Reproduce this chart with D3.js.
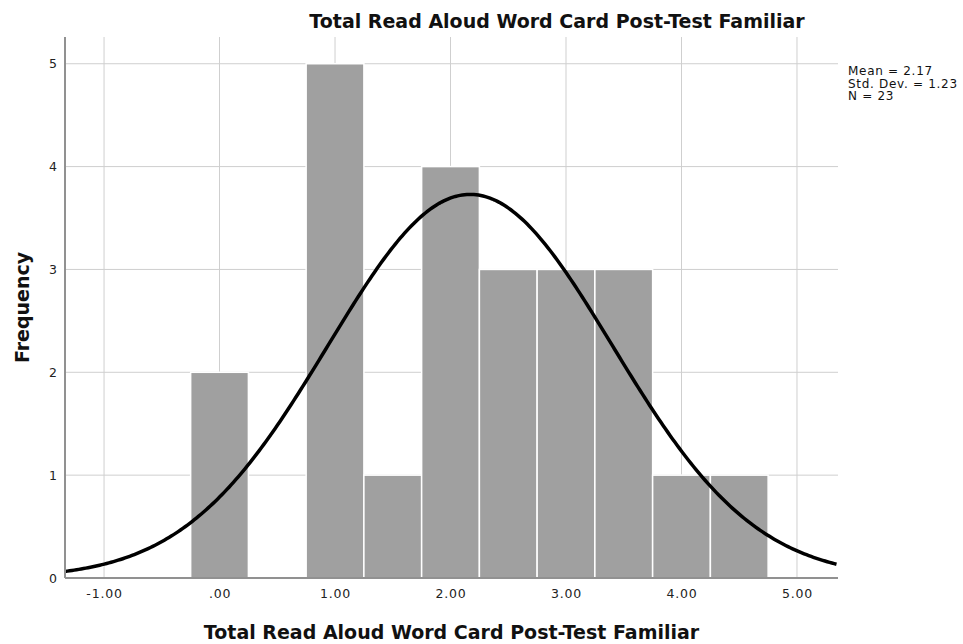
<!DOCTYPE html>
<html>
<head>
<meta charset="utf-8">
<script src="https://cdn.jsdelivr.net/npm/d3@7"></script>
<style>
  body { margin: 0; background: #fff; }
  svg { display: block; font-family: "DejaVu Sans", sans-serif; }
</style>
</head>
<body>
<div id="chart"></div>
<script>
// histogram bins (lower edge) and counts
const binStarts = [-0.25, 0.75, 1.25, 1.75, 2.25, 2.75, 3.25, 3.75, 4.25];
const binWidth = 0.5;
const counts = [2, 5, 1, 4, 3, 3, 3, 1, 1];
const xTicks = [-1, 0, 1, 2, 3, 4, 5];
const xTickLabels = ["-1.00", ".00", "1.00", "2.00", "3.00", "4.00", "5.00"];
const yTicks = [0, 1, 2, 3, 4, 5];
const stats = { mean: 2.17, sd: 1.23, n: 23 };
const titleText = "Total Read Aloud Word Card Post-Test Familiar";

const width = 963, height = 644;
const margin = { left: 65, right: 125, top: 37, bottom: 66 };

const svg = d3.select("#chart").append("svg")
    .attr("width", width)
    .attr("height", height);

const x = d3.scaleLinear()
    .domain([-1.338, 5.355])
    .range([margin.left, width - margin.right]);
const y = d3.scaleLinear()
    .domain([0, 5.26])
    .range([height - margin.bottom, margin.top]);

// gridlines
svg.append("g").selectAll("line.vgrid")
    .data(xTicks).enter().append("line")
    .attr("x1", d => x(d)).attr("x2", d => x(d))
    .attr("y1", y.range()[1]).attr("y2", y.range()[0])
    .attr("stroke", "#cfcfcf").attr("stroke-width", 1);
svg.append("g").selectAll("line.hgrid")
    .data(yTicks.slice(1)).enter().append("line")
    .attr("x1", x.range()[0]).attr("x2", x.range()[1])
    .attr("y1", d => y(d)).attr("y2", d => y(d))
    .attr("stroke", "#cfcfcf").attr("stroke-width", 1);

// bars
svg.append("g").selectAll("rect")
    .data(counts).enter().append("rect")
    .attr("x", (d, i) => x(binStarts[i]))
    .attr("y", d => y(d))
    .attr("width", (d, i) => x(binStarts[i] + binWidth) - x(binStarts[i]))
    .attr("height", d => y(0) - y(d))
    .attr("fill", "#a0a0a0")
    .attr("stroke", "#fff")
    .attr("stroke-width", 1.5);

// normal curve from mean / sd / N
const curve = d3.range(x.domain()[0], x.domain()[1] + 0.001, 0.02).map(v => {
    const z = (v - stats.mean) / stats.sd;
    return [v, stats.n * binWidth * Math.exp(-0.5 * z * z) / (stats.sd * Math.sqrt(2 * Math.PI))];
});
svg.append("path")
    .datum(curve)
    .attr("fill", "none")
    .attr("stroke", "#000")
    .attr("stroke-width", 3.5)
    .attr("d", d3.line().x(d => x(d[0])).y(d => y(d[1])));

// axes
const xAxis = svg.append("g")
    .attr("transform", "translate(0," + y(0) + ")")
    .call(d3.axisBottom(x).tickValues(xTicks).tickFormat((d, i) => xTickLabels[i]).tickSize(0).tickPadding(11));
const yAxis = svg.append("g")
    .attr("transform", "translate(" + x.range()[0] + ",0)")
    .call(d3.axisLeft(y).tickValues(yTicks).tickFormat(d3.format("d")).tickSize(0).tickPadding(8));
[xAxis, yAxis].forEach(a => {
    a.select(".domain").attr("stroke", "#919191").attr("stroke-width", 2);
    a.selectAll("text").attr("font-size", 12.5).attr("fill", "#222")
        .attr("font-family", "'DejaVu Sans', sans-serif");
});
xAxis.selectAll("text").attr("letter-spacing", 0.8);
xAxis.select(".domain").attr("d", "M" + x.range()[0] + ",0H" + x.range()[1]);
yAxis.select(".domain").attr("d", "M0," + y.range()[1] + "V" + y.range()[0]);

// titles
svg.append("text")
    .attr("x", 557).attr("y", 28)
    .attr("text-anchor", "middle")
    .attr("font-size", 19).attr("font-weight", "bold")
    .attr("fill", "#111")
    .text(titleText);
svg.append("text")
    .attr("x", (x.range()[0] + x.range()[1]) / 2).attr("y", 639)
    .attr("text-anchor", "middle")
    .attr("font-size", 19).attr("font-weight", "bold")
    .attr("fill", "#111")
    .text(titleText);
svg.append("text")
    .attr("transform", "translate(29," + ((y.range()[0] + y.range()[1]) / 2) + ") rotate(-90)")
    .attr("text-anchor", "middle")
    .attr("font-size", 19).attr("font-weight", "bold")
    .attr("fill", "#111")
    .text("Frequency");

// stats box
const statLines = ["Mean = " + stats.mean.toFixed(2), "Std. Dev. = " + stats.sd.toFixed(2), "N = " + stats.n];
svg.append("g").selectAll("text")
    .data(statLines).enter().append("text")
    .attr("x", 848)
    .attr("y", (d, i) => 75 + i * 12.5)
    .attr("font-size", 12)
    .attr("letter-spacing", 0.7)
    .attr("fill", "#111")
    .text(d => d);
</script>
</body>
</html>
